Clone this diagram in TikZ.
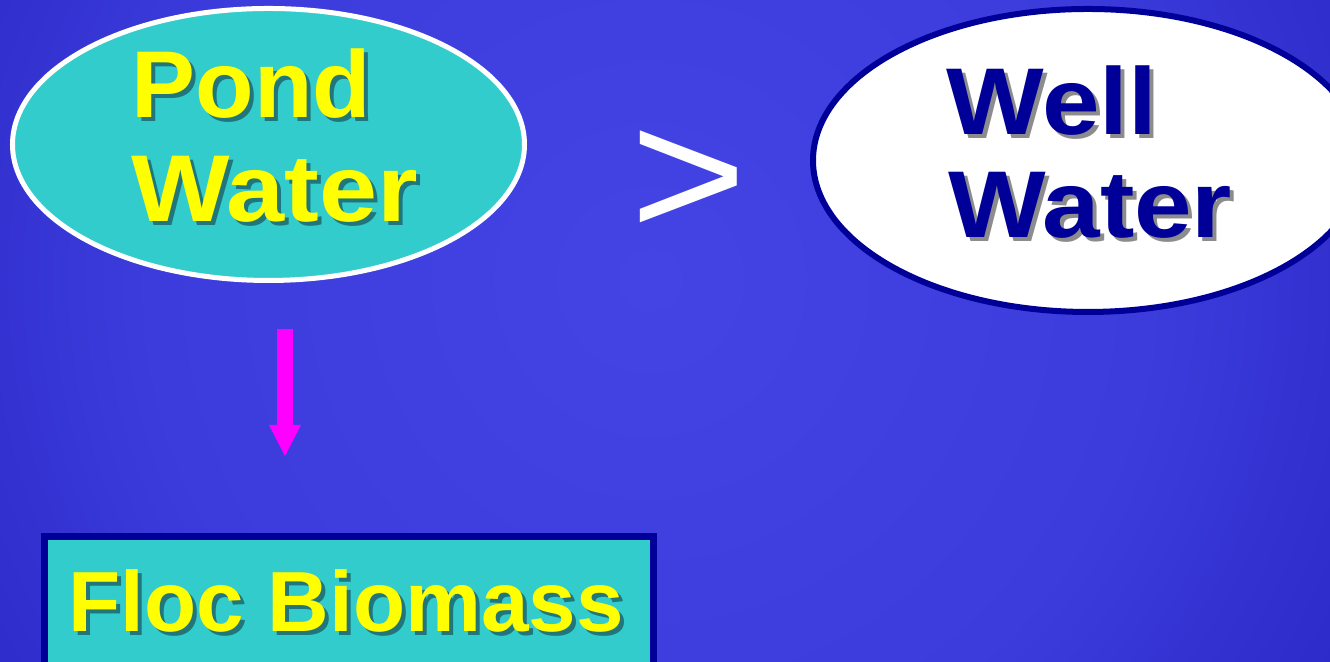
\documentclass[tikz,border=0pt]{standalone}
\usepackage{fontspec}
\usepackage{graphicx}
\setmainfont{Liberation Sans}
\usetikzlibrary{shapes.geometric,arrows.meta}

\definecolor{bginner}{RGB}{68,68,228}
\definecolor{bgmid}{RGB}{60,60,220}
\definecolor{bgdeep}{RGB}{44,42,200}
\definecolor{bgedge}{RGB}{28,22,168}
\definecolor{bgcorner}{RGB}{26,20,160}
\definecolor{aqua}{RGB}{51,204,204}
\definecolor{navy}{RGB}{0,0,153}
\definecolor{lemon}{RGB}{255,255,0}
\definecolor{tealshade}{RGB}{32,118,122}
\definecolor{greyshade}{RGB}{140,140,140}
\definecolor{flowpink}{RGB}{255,0,255}

% soft glow behind everything
\pgfdeclareradialshading{slideglow}{\pgfpoint{0bp}{0bp}}{%
  color(0bp)=(bginner); color(15.6bp)=(bgmid); color(25bp)=(bgdeep);
  color(40.6bp)=(bgedge); color(50bp)=(bgcorner); color(72bp)=(bgcorner)}

% slightly widened lettering
\newcommand{\widen}[2][1.09]{\scalebox{#1}[1]{#2}}

\tikzset{
  pondshape/.style={ellipse, draw=white, line width=0.05cm, fill=aqua,
    minimum width=5.12cm, minimum height=2.72cm, inner sep=0pt},
  wellshape/.style={ellipse, draw=navy, line width=0.06cm, fill=white,
    minimum width=5.5cm, minimum height=3.03cm, inner sep=0pt},
  flocshape/.style={rectangle, draw=navy, line width=0.07cm, fill=aqua,
    minimum width=6.085cm, minimum height=1.635cm, inner sep=0pt},
  bigword/.style={font=\fontsize{27pt}{32pt}\selectfont\bfseries,
    anchor=base west, inner sep=0pt},
  flocword/.style={font=\fontsize{24.3pt}{29pt}\selectfont\bfseries,
    anchor=base west, inner sep=0pt},
  compare/.style={font=\fontsize{51.6pt}{58pt}\selectfont, text=white,
    anchor=base west, inner sep=0pt},
  flowarrow/.style={line width=0.16cm, draw=flowpink,
    -{Triangle[width=0.32cm,length=0.31cm,line width=0pt]}},
  shadowoff/.style={xshift=0.04cm, yshift=-0.04cm}
}

\begin{document}
\begin{tikzpicture}
  \useasboundingbox (0,0) rectangle (13.3,6.62);
  \clip (0,0) rectangle (13.3,6.62);
  \shade[shading=slideglow] (-1.5,-4.18) rectangle (14.5,11.82);

  % left ellipse
  \node[pondshape] (pond) at (2.685,5.175) {};
  \node[bigword, text=tealshade, shadowoff] (pondashade) at (1.31,5.44) {\widen[1.01]{Pond}};
  \node[bigword, text=tealshade, shadowoff] (pondbshade) at (1.31,4.40) {\widen[1.1]{Water}};
  \node[bigword, text=lemon] (ponda) at (1.31,5.44) {\widen[1.01]{Pond}};
  \node[bigword, text=lemon] (pondb) at (1.31,4.40) {\widen[1.1]{Water}};

  % comparison sign
  \node[compare] (gt) at (6.294,4.25) {\scalebox{1.1}[1]{>}};

  % right ellipse
  \node[wellshape] (well) at (10.88,5.015) {};
  \node[bigword, text=greyshade, shadowoff] (wellashade) at (9.46,5.27) {\widen{Well}};
  \node[bigword, text=greyshade, shadowoff] (wellbshade) at (9.48,4.24) {\widen{Water}};
  \node[bigword, text=navy] (wella) at (9.46,5.27) {\widen{Well}};
  \node[bigword, text=navy] (wellb) at (9.48,4.24) {\widen{Water}};

  % downward arrow
  \coordinate (arrowtop) at (2.85,3.33);
  \coordinate (arrowtip) at (2.85,2.06);
  \draw[flowarrow] (arrowtop) -- (arrowtip);

  % result box
  \node[flocshape] (floc) at (3.4875,0.4375) {};
  \node[flocword, text=tealshade, shadowoff] (flocshade) at (0.68,0.30) {Floc Biomass};
  \node[flocword, text=lemon] (floctext) at (0.68,0.30) {Floc Biomass};
\end{tikzpicture}
\end{document}
